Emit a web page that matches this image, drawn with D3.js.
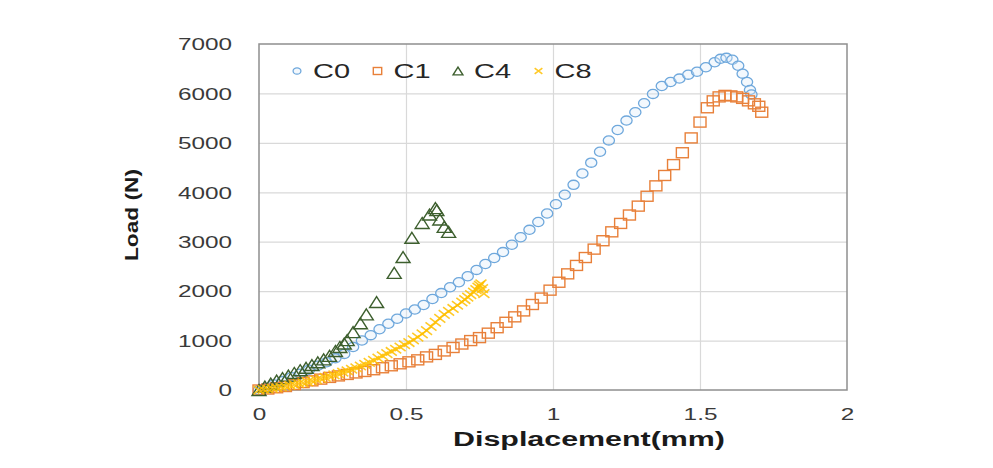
<!DOCTYPE html>
<html>
<head>
<meta charset="utf-8">
<script src="https://cdn.jsdelivr.net/npm/d3@7"></script>
<style>
  html, body { margin: 0; padding: 0; background: #fff; }
  svg { display: block; font-family: "Liberation Sans", Arial, sans-serif; }
</style>
</head>
<body>
<svg id="chart" width="993" height="468"></svg>
<script>
// ---------------- data ----------------
const seriesNames = ["C0", "C1", "C4", "C8"];
const xTicks = [0, 0.5, 1, 1.5, 2];
const xTickLabels = ["0", "0.5", "1", "1.5", "2"];
const yTicks = [0, 1000, 2000, 3000, 4000, 5000, 6000, 7000];
const yTickLabels = ["0", "1000", "2000", "3000", "4000", "5000", "6000", "7000"];

const C0 = [[0,0],[0.02,40],[0.05,110],[0.08,180],[0.11,260],[0.14,330],[0.17,410],[0.20,490],
  [0.23,560],[0.26,640],[0.29,730],[0.32,870],[0.35,1000],[0.38,1110],[0.41,1230],[0.44,1340],
  [0.47,1440],[0.50,1550],[0.53,1630],[0.56,1720],[0.59,1840],[0.62,1960],[0.65,2080],[0.68,2180],
  [0.71,2300],[0.74,2430],[0.77,2550],[0.80,2670],[0.83,2790],[0.86,2940],[0.89,3090],[0.92,3240],
  [0.95,3400],[0.98,3570],[1.01,3760],[1.04,3950],[1.07,4150],[1.10,4380],[1.13,4600],[1.16,4820],
  [1.19,5050],[1.22,5260],[1.25,5450],[1.28,5620],[1.31,5800],[1.34,5990],[1.37,6150],[1.40,6230],
  [1.43,6300],[1.46,6380],[1.49,6440],[1.52,6530],[1.55,6630],[1.57,6700],[1.59,6720],[1.61,6680],
  [1.63,6560],[1.645,6400],[1.66,6230],[1.67,6070],[1.675,5980]];

const C1 = [[0,0],[0.03,20],[0.06,45],[0.09,70],[0.12,110],[0.15,150],[0.18,185],[0.21,220],
  [0.24,255],[0.27,285],[0.30,315],[0.33,345],[0.36,375],[0.39,410],[0.42,450],[0.45,490],
  [0.48,530],[0.51,570],[0.54,610],[0.57,670],[0.60,720],[0.63,790],[0.66,860],[0.69,930],
  [0.72,1000],[0.75,1060],[0.78,1150],[0.81,1260],[0.84,1370],[0.87,1480],[0.90,1600],[0.93,1730],
  [0.96,1860],[0.99,2020],[1.02,2180],[1.05,2350],[1.08,2520],[1.11,2680],[1.14,2850],[1.17,3020],
  [1.20,3200],[1.23,3370],[1.26,3540],[1.29,3720],[1.32,3920],[1.35,4130],[1.38,4340],[1.41,4560],
  [1.44,4800],[1.47,5100],[1.50,5420],[1.525,5710],[1.545,5850],[1.565,5930],[1.585,5960],
  [1.605,5950],[1.625,5930],[1.645,5900],[1.665,5850],[1.685,5790],[1.70,5740],[1.71,5620]];

const C4 = [[0,0],[0.02,70],[0.04,130],[0.06,190],[0.08,240],[0.10,290],[0.12,345],[0.14,400],
  [0.16,450],[0.18,505],[0.20,560],[0.22,620],[0.24,690],[0.26,790],[0.275,870],[0.29,940],
  [0.30,1010],[0.32,1170],[0.345,1350],[0.365,1530],[0.40,1780],
  [0.46,2370],[0.49,2690],[0.52,3080],[0.555,3380],[0.58,3550],[0.60,3680],[0.605,3640],
  [0.615,3450],[0.63,3300],[0.645,3200]];

const C8 = [[0,0],[0.015,10],[0.03,20],[0.045,32],[0.06,45],[0.075,60],[0.09,75],[0.105,92],
  [0.12,110],[0.135,128],[0.15,145],[0.165,165],[0.18,185],[0.195,207],[0.21,230],[0.225,255],
  [0.24,280],[0.255,305],[0.27,330],[0.285,360],[0.30,390],[0.315,420],[0.33,450],[0.345,485],
  [0.36,520],[0.375,560],[0.39,600],[0.405,645],[0.42,690],[0.435,735],[0.45,780],[0.465,825],
  [0.48,870],[0.495,915],[0.51,960],[0.525,1015],[0.54,1070],[0.555,1135],[0.57,1200],
  [0.585,1285],[0.60,1370],[0.615,1450],[0.63,1530],[0.645,1590],[0.66,1650],[0.675,1715],
  [0.69,1780],[0.70,1830],[0.71,1880],[0.72,1930],[0.73,1980],[0.738,2030],[0.745,2080],
  [0.75,2120],[0.755,2150],[0.76,2050],[0.765,1950]];

// ---------------- layout ----------------
const svg = d3.select("#chart");
const plot = { left: 259, right: 847, top: 44, bottom: 390 };
const SX = 1.52; // horizontal stretch of the reference's text

const x = d3.scaleLinear().domain([0, 2]).range([plot.left, plot.right]);
const y = d3.scaleLinear().domain([0, 7000]).range([plot.bottom, plot.top]);

const colors = { C0: "#6fa8dc", C1: "#e8803a", C4: "#3d5f2e", C8: "#ffc000" };

// gridlines
svg.append("g")
  .attr("transform", `translate(0,${plot.bottom})`)
  .call(d3.axisBottom(x).tickValues(xTicks.slice(1, -1)).tickSize(-(plot.bottom - plot.top)).tickFormat(""))
  .call(g => g.select(".domain").remove())
  .call(g => g.selectAll("line").attr("stroke", "#d9d9d9").attr("stroke-width", 1.2));
svg.append("g")
  .attr("transform", `translate(${plot.left},0)`)
  .call(d3.axisLeft(y).tickValues(yTicks.slice(1, -1)).tickSize(-(plot.right - plot.left)).tickFormat(""))
  .call(g => g.select(".domain").remove())
  .call(g => g.selectAll("line").attr("stroke", "#d9d9d9").attr("stroke-width", 1.2));

// frame
svg.append("rect")
  .attr("x", plot.left).attr("y", plot.top)
  .attr("width", plot.right - plot.left).attr("height", plot.bottom - plot.top)
  .attr("fill", "none").attr("stroke", "#8f8f8f").attr("stroke-width", 1.5);

// axes labels
const xAxisG = svg.append("g")
  .attr("transform", `translate(0,${plot.bottom})`)
  .call(d3.axisBottom(x).tickValues(xTicks).tickFormat((d, i) => xTickLabels[i]).tickSize(0));
xAxisG.select(".domain").remove();
xAxisG.selectAll("text")
  .attr("y", 30).attr("dy", 0)
  .attr("font-size", 16).attr("font-family", "Liberation Sans, Arial, sans-serif")
  .attr("fill", "#3a3a3a")
  .attr("transform", `scale(${SX},1)`);

const yAxisG = svg.append("g")
  .attr("transform", `translate(${plot.left},0)`)
  .call(d3.axisLeft(y).tickValues(yTicks).tickFormat((d, i) => yTickLabels[i]).tickSize(0));
yAxisG.select(".domain").remove();
yAxisG.selectAll("text")
  .attr("x", -27 / SX).attr("dy", "0.36em")
  .attr("font-size", 16).attr("font-family", "Liberation Sans, Arial, sans-serif")
  .attr("fill", "#3a3a3a")
  .attr("transform", `scale(${SX},1)`);

// axis titles
svg.append("text")
  .attr("transform", `translate(589,446) scale(${SX},1)`)
  .attr("text-anchor", "middle")
  .attr("font-size", 20).attr("font-weight", "bold").attr("fill", "#1a1a1a")
  .text("Displacement(mm)");

svg.append("text")
  .attr("transform", `translate(138,215) rotate(-90)`)
  .attr("text-anchor", "middle")
  .attr("font-size", 19).attr("font-weight", "bold").attr("fill", "#1a1a1a")
  .attr("textLength", 92).attr("lengthAdjust", "spacingAndGlyphs")
  .text("Load (N)");

// ---------------- markers ----------------
function drawMarker(g, name, cx, cy, scale) {
  const c = colors[name];
  const s = scale || 1;
  if (name === "C0") {
    g.append("ellipse").attr("cx", cx).attr("cy", cy).attr("rx", 5.6 * s).attr("ry", 4.6 * s)
      .attr("fill", "#dcebf8").attr("fill-opacity", 0.35).attr("stroke", c).attr("stroke-width", 1.3);
  } else if (name === "C1") {
    g.append("rect").attr("x", cx - 6 * s).attr("y", cy - 5 * s).attr("width", 12 * s).attr("height", 10 * s)
      .attr("fill", "none").attr("stroke", c).attr("stroke-width", 1.4);
  } else if (name === "C4") {
    const w = 7 * s, h = 5.5 * s;
    g.append("path").attr("d", `M${cx},${cy - h}L${cx + w},${cy + h}L${cx - w},${cy + h}Z`)
      .attr("fill", "none").attr("stroke", c).attr("stroke-width", 1.4);
  } else {
    const w = 5.5 * s, h = 4.2 * s;
    g.append("path").attr("d", `M${cx - w},${cy - h}L${cx + w},${cy + h}M${cx - w},${cy + h}L${cx + w},${cy - h}`)
      .attr("fill", "none").attr("stroke", c).attr("stroke-width", 1.6).attr("stroke-opacity", 0.85);
  }
}

const dataByName = { C0, C1, C4, C8 };
const marks = svg.append("g");
seriesNames.forEach(name => {
  const g = marks.append("g").attr("class", "series-" + name);
  dataByName[name].forEach(d => drawMarker(g, name, x(d[0]), y(d[1]), 1));
});

// ---------------- legend ----------------
const legend = svg.append("g");
seriesNames.forEach((name, i) => {
  const mx = 297 + i * 80.5;
  drawMarker(legend, name, mx, 71, 0.7);
  legend.append("text")
    .attr("transform", `translate(${mx + 16},78) scale(1.45,1)`)
    .attr("font-size", 20).attr("fill", "#262626")
    .text(name);
});
</script>
</body>
</html>
